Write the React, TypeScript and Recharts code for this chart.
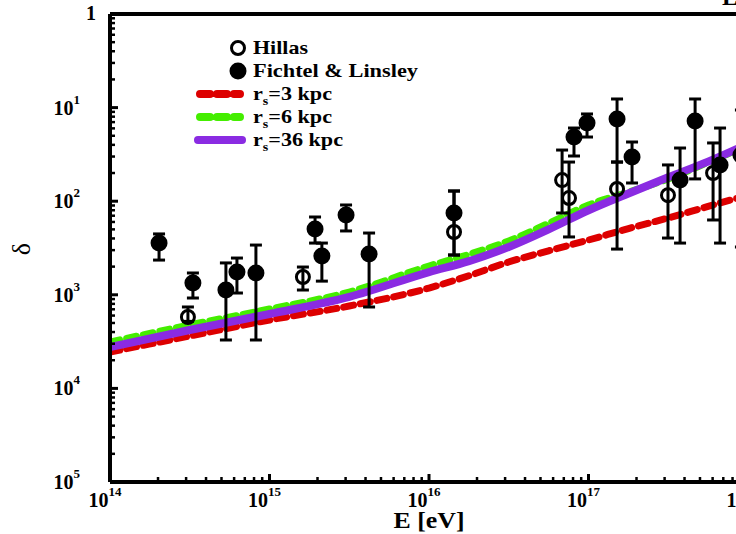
import React from 'react';
import { ComposedChart, Line, Scatter, XAxis, YAxis, ErrorBar, ReferenceLine } from 'recharts';

// Model curves: energy (eV) and delta
const curveEnergy = [1e14, 3.16e14, 1e15, 3.16e15, 1e16, 1.78e16, 3.16e16, 5.62e16, 1e17, 1.78e17, 3.16e17, 5.62e17, 1e18];
const r3kpc = [2.45e-4, 3.63e-4, 5.38e-4, 7.59e-4, 1.18e-3, 1.6e-3, 2.24e-3, 2.95e-3, 3.85e-3, 5.1e-3, 6.62e-3, 8.8e-3, 1.16e-2];
const r6kpc = [3.13e-4, 4.76e-4, 7.05e-4, 1.07e-3, 2.03e-3, 2.7e-3, 3.76e-3, 5.8e-3, 9.1e-3, 1.25e-2, 1.73e-2, 2.6e-2, 3.98e-2];
const r36kpc = [2.77e-4, 4.21e-4, 6.24e-4, 9.49e-4, 1.75e-3, 2.29e-3, 3.24e-3, 5.0e-3, 8.0e-3, 1.21e-2, 1.8e-2, 2.65e-2, 4.1e-2];

// Hillas (open circles)
const hillasE = [3.08e14, 1.62e15, 1.435e16, 6.83e16, 7.55e16, 1.51e17, 3.15e17, 6.04e17];
const hillasD = [5.79e-4, 1.55e-3, 4.69e-3, 1.68e-2, 1.08e-2, 1.35e-2, 1.16e-2, 2.0e-2];
const hillasLo = [5.2e-4, 1.125e-3, 2.66e-3, 7.48e-3, 4.15e-3, 3.08e-3, 4.04e-3, 6.3e-3];
const hillasHi = [7.41e-4, 1.98e-3, 1.285e-2, 3.52e-2, 2.62e-2, 2.62e-2, 2.44e-2, 4.19e-2];

// Fichtel & Linsley (filled circles)
const flE = [2.03e14, 3.31e14, 5.33e14, 6.25e14, 8.22e14, 1.93e15, 2.13e15, 3.02e15, 4.21e15, 1.435e16, 8.11e16, 9.79e16, 1.51e17, 1.875e17, 3.75e17, 4.66e17, 6.68e17, 9.03e17];
const flD = [3.57e-3, 1.34e-3, 1.125e-3, 1.75e-3, 1.71e-3, 5.05e-3, 2.6e-3, 7.12e-3, 2.73e-3, 7.48e-3, 4.85e-2, 6.84e-2, 7.55e-2, 2.97e-2, 1.68e-2, 7.19e-2, 2.44e-2, 3.12e-2];
const flLo = [2.35e-3, 9.24e-4, 3.29e-4, 1.045e-3, 3.29e-4, 3.57e-3, 1.4e-3, 4.81e-3, 7.41e-4, 2.66e-3, 3.04e-2, 4.85e-2, 2.62e-2, 1.565e-2, 3.57e-3, 1.73e-2, 3.57e-3, 3.24e-3];
const flHi = [4.47e-3, 1.71e-3, 2.19e-3, 2.47e-3, 3.4e-3, 6.78e-3, 3.57e-3, 9.11e-3, 4.57e-3, 1.285e-2, 6.05e-2, 8.55e-2, 1.236e-1, 4.29e-2, 3.7e-2, 1.236e-1, 6.05e-2, 9.42e-2];

// Axis ticks
const xMajor = [1e14, 1e15, 1e16, 1e17, 1e18];
const xMajorLabels = ['14', '15', '16', '17', '18'];
const yMajor = [1e-5, 1e-4, 1e-3, 1e-2, 1e-1, 1];
const yMajorLabels = ['5', '4', '3', '2', '1', ''];

const xTicks: number[] = [];
xMajor.forEach((d, i) => {
  if (i < xMajor.length - 1) for (let m = 1; m < 10; m++) xTicks.push(m * d);
  else xTicks.push(d);
});
const yTicks: number[] = [];
yMajor.forEach((d, i) => {
  if (i < yMajor.length - 1) for (let m = 1; m < 10; m++) yTicks.push(m * d);
  else yTicks.push(d);
});

const curve = (vals: number[]) => curveEnergy.map((x, i) => ({ x, y: vals[i] }));
const points = (E: number[], D: number[], lo: number[], hi: number[]) =>
  E.map((x, i) => ({ x, y: D[i], err: [D[i] - lo[i], hi[i] - D[i]] }));

const FONT = "'Liberation Serif', 'Times New Roman', serif";

const isMajor = (v: number) => {
  const lg = Math.log10(v);
  return Math.abs(lg - Math.round(lg)) < 1e-6;
};

const XTick = (props: any) => {
  const { x, y, payload } = props;
  const v = payload.value;
  const major = isMajor(v);
  const idx = xMajor.findIndex((m) => Math.abs(Math.log10(m) - Math.log10(v)) < 1e-6);
  return (
    <g>
      <line x1={x} x2={x} y1={y} y2={y - (major ? 8 : 5)} stroke="#000" strokeWidth={major ? 3 : 2.5} />
      {major && idx >= 0 && (
        <text x={x - 5} y={y + 25} textAnchor="middle" fontFamily={FONT} fontWeight="bold" fontSize={20} fill="#000">
          <tspan>10</tspan>
          <tspan dy={-11} fontSize={13}>{xMajorLabels[idx]}</tspan>
        </text>
      )}
    </g>
  );
};

const YTick = (props: any) => {
  const { x, y, payload } = props;
  const v = payload.value;
  const major = isMajor(v);
  const idx = yMajor.findIndex((m) => Math.abs(Math.log10(m) - Math.log10(v)) < 1e-6);
  let label: any = null;
  if (major && idx >= 0) {
    if (v === 1) {
      label = (
        <text x={x - 14} y={y + 6} textAnchor="end" fontFamily={FONT} fontWeight="bold" fontSize={20} fill="#000">1</text>
      );
    } else {
      label = (
        <text x={x - 30} y={y + 7} textAnchor="end" fontFamily={FONT} fontWeight="bold" fontSize={20} fill="#000">
          <tspan>10</tspan>
          <tspan dy={-11} fontSize={13}>{yMajorLabels[idx]}</tspan>
        </text>
      );
    }
  }
  return (
    <g>
      <line x1={x} x2={x + (major ? 8 : 5)} y1={y} y2={y} stroke="#000" strokeWidth={major ? 3 : 2.5} />
      {label}
    </g>
  );
};

const OpenCircle = (p: any) => <circle cx={p.cx} cy={p.cy} r={6.5} fill="none" stroke="#000" strokeWidth={3} />;
const FilledCircle = (p: any) => <circle cx={p.cx} cy={p.cy} r={8.5} fill="#000" />;

const XLabel = (props: any) => {
  const vb = props.viewBox || {};
  const cx = vb.x + vb.width / 2;
  return (
    <text x={cx} y={vb.y + 46} textAnchor="middle" fontFamily={FONT} fontWeight="bold" fontSize={23} textLength={71} lengthAdjust="spacingAndGlyphs" fill="#000">E [eV]</text>
  );
};

const dashStyle = { strokeWidth: 7, strokeDasharray: '10 7', strokeLinecap: 'round' as const };

export default function App() {
  return (
    <div style={{ position: 'fixed', left: 0, top: 0, width: 736, height: 534, overflow: 'hidden', background: '#fff' }}>
      <ComposedChart width={760} height={534} margin={{ top: 14, right: 12, bottom: 12, left: 40 }}>
        <XAxis
          dataKey="x"
          type="number"
          scale="log"
          domain={[1e14, 1e18]}
          allowDataOverflow
          ticks={xTicks}
          interval={0}
          tickSize={0}
          tickMargin={0}
          tickLine={false}
          tick={XTick}
          axisLine={{ stroke: '#000', strokeWidth: 4 }}
          height={40}
          label={XLabel}
        />
        <YAxis
          dataKey="y"
          type="number"
          scale="log"
          domain={[1e-5, 1]}
          allowDataOverflow
          ticks={yTicks}
          interval={0}
          tickSize={0}
          tickMargin={0}
          tickLine={false}
          tick={YTick}
          axisLine={{ stroke: '#000', strokeWidth: 4 }}
          width={70}
        />
        <ReferenceLine y={1} stroke="#000" strokeWidth={4} />
        <Line data={curve(r3kpc)} dataKey="y" type="monotone" stroke="#dd0000" {...dashStyle} dot={false} isAnimationActive={false} />
        <Line data={curve(r6kpc)} dataKey="y" type="monotone" stroke="#44ee00" {...dashStyle} dot={false} isAnimationActive={false} />
        <Line data={curve(r36kpc)} dataKey="y" type="monotone" stroke="#8a2be2" strokeWidth={8} dot={false} isAnimationActive={false} />
        <Scatter data={points(hillasE, hillasD, hillasLo, hillasHi)} dataKey="y" shape={OpenCircle} isAnimationActive={false}>
          <ErrorBar dataKey="err" direction="y" width={6} stroke="#000" strokeWidth={3} />
        </Scatter>
        <Scatter data={points(flE, flD, flLo, flHi)} dataKey="y" shape={FilledCircle} isAnimationActive={false}>
          <ErrorBar dataKey="err" direction="y" width={6} stroke="#000" strokeWidth={3} />
        </Scatter>
      </ComposedChart>
      <svg width={736} height={534} style={{ position: 'absolute', left: 0, top: 0, pointerEvents: 'none' }}>
        <g transform="translate(30, 249) rotate(-90)">
          <text x={0} y={0} textAnchor="middle" fontFamily={FONT} fontSize={26} fill="#000">δ</text>
        </g>
        <g fontFamily={FONT} fontWeight="bold" fontSize={19} fill="#000">
          <circle cx={238} cy={48} r={6.5} fill="none" stroke="#000" strokeWidth={3} />
          <text x={253} y={54} textLength={55} lengthAdjust="spacingAndGlyphs">Hillas</text>
          <circle cx={238} cy={71} r={8.5} fill="#000" />
          <text x={253} y={77} textLength={165} lengthAdjust="spacingAndGlyphs">Fichtel &amp; Linsley</text>
          <line x1={200} x2={240} y1={94} y2={94} stroke="#dd0000" strokeWidth={8} strokeDasharray="10 7" strokeLinecap="round" />
          <text x={253} y={100} textLength={79} lengthAdjust="spacingAndGlyphs">r<tspan dy={5} fontSize={12}>s</tspan><tspan dy={-5}>=3 kpc</tspan></text>
          <line x1={200} x2={240} y1={117} y2={117} stroke="#44ee00" strokeWidth={8} strokeDasharray="10 7" strokeLinecap="round" />
          <text x={253} y={123} textLength={79} lengthAdjust="spacingAndGlyphs">r<tspan dy={5} fontSize={12}>s</tspan><tspan dy={-5}>=6 kpc</tspan></text>
          <line x1={198} x2={242} y1={140} y2={140} stroke="#8a2be2" strokeWidth={8} strokeLinecap="round" />
          <text x={253} y={146} textLength={90} lengthAdjust="spacingAndGlyphs">r<tspan dy={5} fontSize={12}>s</tspan><tspan dy={-5}>=36 kpc</tspan></text>
          <text x={722} y={5} fontSize={24}>E</text>
        </g>
      </svg>
    </div>
  );
}
